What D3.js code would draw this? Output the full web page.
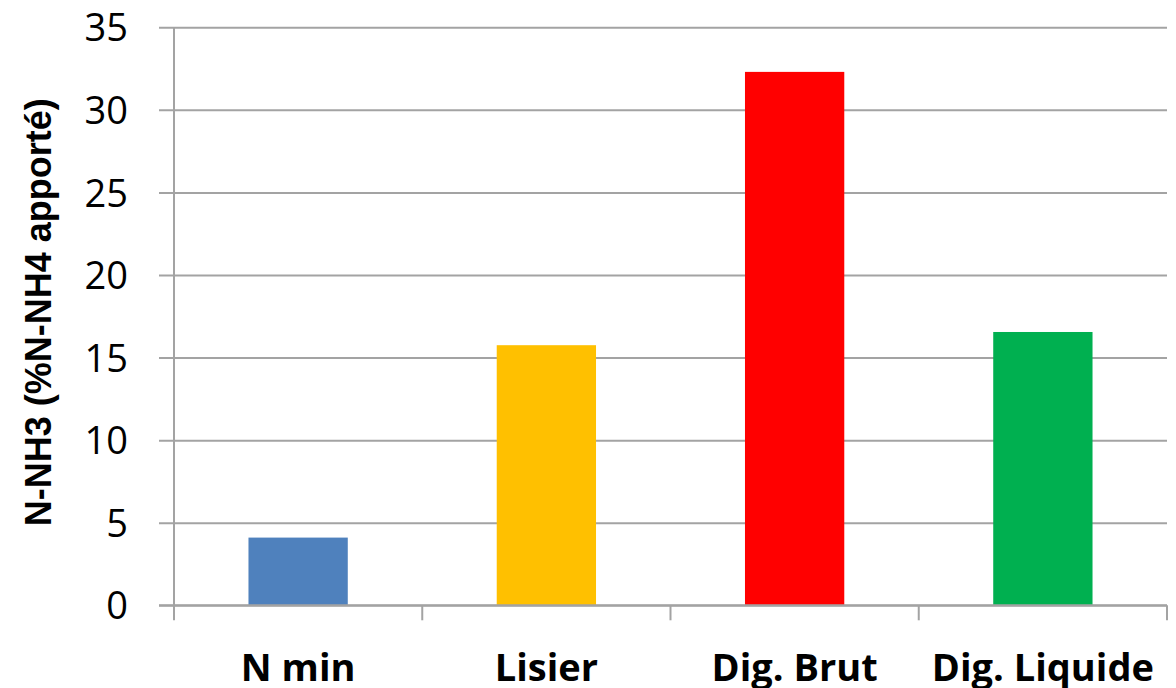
<!DOCTYPE html>
<html>
<head>
<meta charset="utf-8">
<script src="https://cdn.jsdelivr.net/npm/d3@7"></script>
<style>
  html, body { margin: 0; padding: 0; background: #fff; }
  svg { display: block; }
</style>
</head>
<body>
<svg id="chart" width="1176" height="688"></svg>
<script>
// Ammonia volatilisation by fertiliser type
const categories = ["N min", "Lisier", "Dig. Brut", "Dig. Liquide"];
const values = [4.1, 15.75, 32.3, 16.55];
const colors = ["#4f81bd", "#ffc000", "#ff0000", "#00b050"];
const yTicks = [0, 5, 10, 15, 20, 25, 30, 35];
const yTitle = "N-NH3 (%N-NH4 apporté)";

const svg = d3.select("#chart");
const plotLeft = 174, plotRight = 1167, plotTop = 27.3, plotBottom = 605.3;
const gridColor = "#a3a3a3";

const x = d3.scaleBand().domain(categories).range([plotLeft, plotRight])
  .paddingInner(0.6).paddingOuter(0.3);
const xb = d3.scaleBand().domain(categories).range([plotLeft, plotRight]).padding(0);
const y = d3.scaleLinear().domain([0, 35]).range([plotBottom, plotTop]);

// Horizontal gridlines with the small outside ticks
const yAxis = svg.append("g")
  .attr("transform", `translate(${plotLeft - 15},0)`)
  .call(d3.axisLeft(y).tickValues(yTicks).tickSize(-(plotRight - plotLeft + 15)).tickPadding(31));
yAxis.select(".domain").remove();
yAxis.selectAll(".tick line").attr("stroke", gridColor).attr("stroke-width", 2);
yAxis.selectAll(".tick text")
  .attr("font-family", "'Open Sans', sans-serif")
  .attr("font-size", 38)
  .attr("fill", "#000")
  .attr("dy", "0.36em");

// Vertical axis line
svg.append("line")
  .attr("x1", plotLeft).attr("x2", plotLeft)
  .attr("y1", plotTop).attr("y2", plotBottom + 15)
  .attr("stroke", gridColor).attr("stroke-width", 2);

// Bars
svg.append("g").selectAll("rect")
  .data(categories)
  .join("rect")
  .attr("x", d => x(d))
  .attr("width", x.bandwidth())
  .attr("y", (d, i) => y(values[i]))
  .attr("height", (d, i) => y(0) - y(values[i]))
  .attr("fill", (d, i) => colors[i]);

// Category boundary ticks below the baseline
const bounds = categories.map(c => xb(c) + xb.bandwidth());
svg.append("g").selectAll("line")
  .data(bounds)
  .join("line")
  .attr("x1", d => d).attr("x2", d => d)
  .attr("y1", plotBottom).attr("y2", plotBottom + 15)
  .attr("stroke", gridColor).attr("stroke-width", 2);

// Baseline over the bar bottoms
svg.append("line")
  .attr("x1", plotLeft - 15).attr("x2", plotRight)
  .attr("y1", y(0)).attr("y2", y(0))
  .attr("stroke", gridColor).attr("stroke-width", 2);

// Category labels
svg.append("g").selectAll("text")
  .data(categories)
  .join("text")
  .attr("x", d => xb(d) + xb.bandwidth() / 2)
  .attr("y", 681)
  .attr("text-anchor", "middle")
  .attr("font-family", "'Open Sans', sans-serif")
  .attr("font-weight", "bold")
  .attr("font-size", 38)
  .attr("fill", "#000")
  .text(d => d);

// Y axis title
svg.append("text")
  .attr("transform", `translate(51,${(plotTop + plotBottom) / 2 - 4}) rotate(-90)`)
  .attr("text-anchor", "middle")
  .attr("font-family", "'Liberation Sans', Arial, sans-serif")
  .attr("font-weight", "bold")
  .attr("font-size", 36)
  .attr("fill", "#000")
  .text(yTitle);
</script>
</body>
</html>
